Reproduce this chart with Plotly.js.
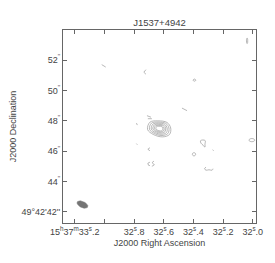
<!DOCTYPE html>
<html><head><meta charset="utf-8">
<script src="https://cdn.plot.ly/plotly-3.0.1.min.js"></script>
<style>html,body{margin:0;padding:0;background:#fff;}#chart{width:275px;height:263px;}</style>
</head><body><div id="chart"></div>
<script>
// Axis ticks (RA seconds of 15h37m, Dec arcsec of 49d42m)
const raTickVals = [33.2, 33.0, 32.8, 32.6, 32.4, 32.2, 32.0];
const raTickText = ["15<sup>h</sup>37<sup>m</sup>33<sup>s</sup>.2", "", "32<sup>s</sup>.8", "32<sup>s</sup>.6", "32<sup>s</sup>.4", "32<sup>s</sup>.2", "32<sup>s</sup>.0"];
const decTickVals = [42, 44, 46, 48, 50, 52];
const decTickText = ["49°42'42''", "44<sup>''</sup>", "46<sup>''</sup>", "48<sup>''</sup>", "50<sup>''</sup>", "52<sup>''</sup>"];

// Main source contours (outer to inner), RA s / Dec arcsec
const sourceRingsRA = [
  [32.693, 32.639, 32.578, 32.553, 32.561, 32.609, 32.670, 32.709, 32.693],
  [32.683, 32.638, 32.586, 32.565, 32.572, 32.612, 32.663, 32.696, 32.683],
  [32.673, 32.636, 32.594, 32.577, 32.582, 32.615, 32.657, 32.684, 32.673],
  [32.664, 32.635, 32.601, 32.587, 32.592, 32.618, 32.651, 32.673, 32.664],
  [32.656, 32.633, 32.608, 32.597, 32.601, 32.621, 32.646, 32.663, 32.656],
  [32.648, 32.632, 32.614, 32.606, 32.609, 32.623, 32.641, 32.653, 32.648]
];
const sourceRingsDec = [
  [47.913, 47.999, 47.894, 47.531, 47.103, 46.944, 47.103, 47.432, 47.913],
  [47.847, 47.919, 47.830, 47.526, 47.166, 47.033, 47.166, 47.443, 47.847],
  [47.785, 47.844, 47.771, 47.521, 47.225, 47.116, 47.225, 47.453, 47.785],
  [47.726, 47.774, 47.716, 47.516, 47.281, 47.194, 47.281, 47.462, 47.726],
  [47.672, 47.708, 47.664, 47.512, 47.332, 47.265, 47.332, 47.470, 47.672],
  [47.623, 47.648, 47.617, 47.508, 47.379, 47.332, 47.379, 47.478, 47.623]
];

// Faint noise contours
const noiseRA = [
  [32.040, 32.036, 32.036, 32.040, 32.040],
  [33.018, 32.991],
  [32.720, 32.734, 32.720],
  [32.403, 32.393, 32.383, 32.393, 32.403],
  [32.713, 32.686],
  [32.707, 32.680],
  [32.784, 32.778],
  [32.477, 32.457, 32.443],
  [32.784, 32.778],
  [32.693, 32.707, 32.693],
  [32.693, 32.707, 32.703, 32.693],
  [32.666, 32.676, 32.673, 32.663, 32.680],
  [32.407, 32.404, 32.396, 32.388, 32.385, 32.388, 32.396, 32.404, 32.407],
  [32.352, 32.335, 32.320, 32.322, 32.322, 32.335, 32.349, 32.352],
  [32.270, 32.264],
  [32.315, 32.325, 32.315, 32.295, 32.274, 32.268],
  [32.026, 32.020, 32.006, 31.992, 31.986, 31.992, 32.006, 32.020, 32.026]
];
const noiseDec = [
  [53.43, 53.43, 53.10, 53.10, 53.43],
  [51.70, 51.54],
  [51.37, 51.20, 51.07],
  [50.68, 50.75, 50.68, 50.61, 50.68],
  [48.34, 48.24],
  [48.14, 48.14],
  [47.85, 47.72],
  [48.84, 48.77, 48.67],
  [46.50, 46.43],
  [46.23, 46.13, 46.03],
  [45.28, 45.21, 45.08, 45.05],
  [45.34, 45.28, 45.18, 45.11, 45.01],
  [45.80, 45.874, 45.905, 45.874, 45.80, 45.726, 45.695, 45.726, 45.80],
  [46.69, 46.74, 46.69, 46.46, 46.27, 46.40, 46.53, 46.69],
  [46.10, 46.03],
  [44.95, 44.85, 44.75, 44.78, 44.75, 44.85],
  [46.73, 46.80, 46.835, 46.80, 46.73, 46.66, 46.625, 46.66, 46.73]
];

// Restoring beam: centre (RA s, Dec"), semi-axes (arcsec), PA (deg)
const beamCenter = [33.148, 42.49];
const beamAxes = [0.38, 0.20];
const beamPA = [65];

const traces = [];
const contourColor = '#9a9a9a';
sourceRingsRA.forEach((xs, i) => {
  traces.push({x: xs, y: sourceRingsDec[i], mode: 'lines', type: 'scatter',
    line: {color: contourColor, width: 0.7, shape: 'spline', smoothing: 1.0}, hoverinfo: 'skip'});
});
noiseRA.forEach((xs, i) => {
  traces.push({x: xs, y: noiseDec[i], mode: 'lines', type: 'scatter',
    line: {color: contourColor, width: 0.7, shape: xs.length > 4 ? 'spline' : 'linear'}, hoverinfo: 'skip'});
});

// beam ellipse outline (geometry from beam parameters)
const cosDec = Math.cos((49 + 42/60 + 47/3600) * Math.PI / 180);
const pa = beamPA[0] * Math.PI / 180;
const bx = [], by = [];
for (let k = 0; k <= 48; k++) {
  const t = 2 * Math.PI * k / 48;
  const a = beamAxes[0] * Math.cos(t), b = beamAxes[1] * Math.sin(t);
  const east = a * Math.sin(pa) + b * Math.cos(pa);
  const north = a * Math.cos(pa) - b * Math.sin(pa);
  bx.push(beamCenter[0] + east / (15 * cosDec));
  by.push(beamCenter[1] + north);
}
traces.push({x: bx, y: by, mode: 'lines', fill: 'toself', fillcolor: '#747474',
  line: {color: '#747474', width: 0.5}, type: 'scatter', hoverinfo: 'skip'});

const axisFont = {family: 'Liberation Sans, Arial, sans-serif', size: 9, color: '#444'};
const layout = {
  width: 275, height: 263,
  margin: {l: 63, r: 19, t: 30, b: 40, pad: 0},
  paper_bgcolor: '#fff', plot_bgcolor: '#fff',
  showlegend: false,
  font: axisFont,
  title: {text: 'J1537+4942', font: {family: 'Liberation Sans, Arial, sans-serif', size: 9.5, color: '#444'},
    x: 0.58, xanchor: 'center', xref: 'container', y: 1 - 23/263, yref: 'container', yanchor: 'middle'},
  xaxis: {
    range: [33.279, 31.978], tickmode: 'array', tickvals: raTickVals, ticktext: raTickText,
    ticks: 'inside', ticklen: 4, tickcolor: '#666', tickwidth: 1,
    showline: true, linecolor: '#666', linewidth: 1, mirror: 'ticks',
    showgrid: false, zeroline: false, tickfont: axisFont,
    title: {text: 'J2000 Right Ascension', font: axisFont, standoff: 3}
  },
  yaxis: {
    range: [41.275, 53.98], tickmode: 'array', tickvals: decTickVals, ticktext: decTickText,
    ticks: 'inside', ticklen: 4, tickcolor: '#666', tickwidth: 1,
    showline: true, linecolor: '#666', linewidth: 1, mirror: 'ticks',
    showgrid: false, zeroline: false, tickfont: axisFont,
    title: {text: 'J2000 Declination', font: axisFont, standoff: 3}
  }
};
Plotly.newPlot('chart', traces, layout, {staticPlot: true, displayModeBar: false});
</script></body></html>
